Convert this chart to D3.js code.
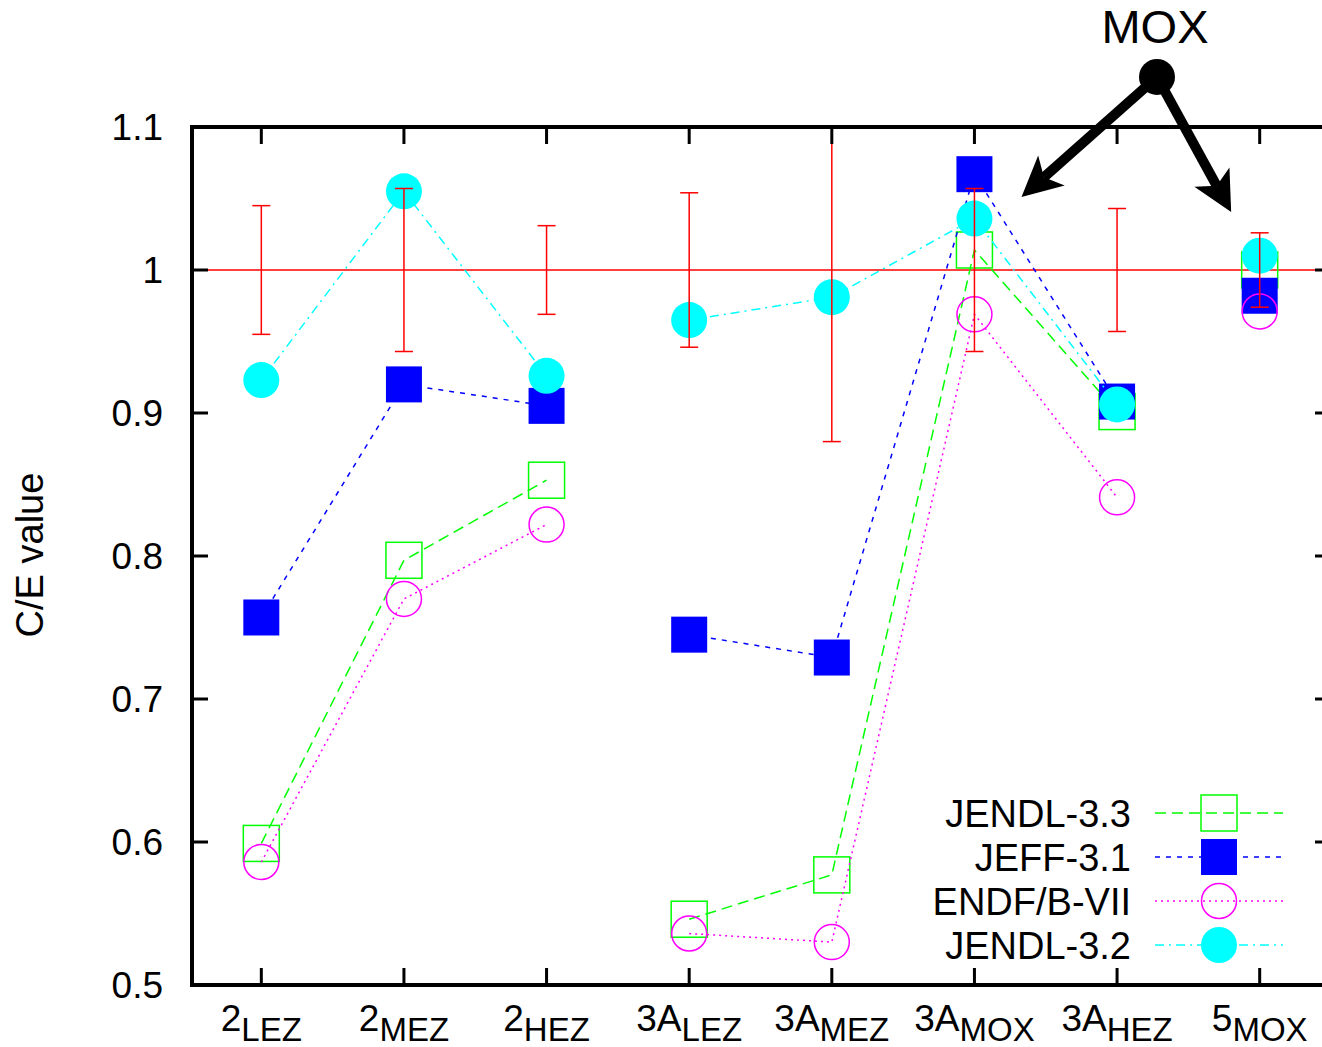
<!DOCTYPE html>
<html>
<head>
<meta charset="utf-8">
<script src="https://cdn.jsdelivr.net/npm/d3@7"></script>
<style>
  html, body { margin: 0; padding: 0; background: #fff; }
  svg { display: block; font-family: "Liberation Sans", Arial, sans-serif; }
</style>
</head>
<body>
<svg id="chart"></svg>
<script>
// categories (main label + subscript) and the run each belongs to
const labelMain = ["2", "2", "2", "3A", "3A", "3A", "3A", "5"];
const labelSub = ["LEZ", "MEZ", "HEZ", "LEZ", "MEZ", "MOX", "HEZ", "MOX"];
const runGroup = [0, 0, 0, 1, 1, 1, 1, 2];

// experimental uncertainty around C/E = 1
const expError = [0.045, 0.057, 0.031, 0.054, 0.12, 0.057, 0.043, 0.026];

const jendl33 = [0.599, 0.797, 0.853, 0.546, 0.577, 1.014, 0.901, 1.000];
const jeff31 = [0.757, 0.920, 0.905, 0.745, 0.729, 1.067, 0.908, 0.982];
const endf7 = [0.586, 0.770, 0.822, 0.536, 0.530, 0.969, 0.841, 0.971];
const jendl32 = [0.923, 1.055, 0.926, 0.965, 0.981, 1.036, 0.906, 1.010];

const yTicks = [0.5, 0.6, 0.7, 0.8, 0.9, 1.0, 1.1];

const W = 1322, H = 1047;
const pLeft = 190, pRight = 1331, pTop = 127, pBottom = 985;

const svg = d3.select("#chart").attr("width", W).attr("height", H);

const x = d3.scaleLinear().domain([-0.5, 7.5]).range([pLeft, pRight]);
const y = d3.scaleLinear().domain([0.5, 1.1]).range([pBottom, pTop]);

svg.append("defs").append("clipPath").attr("id", "plotclip")
  .append("rect")
  .attr("x", pLeft).attr("y", pTop)
  .attr("width", pRight - pLeft).attr("height", pBottom - pTop);

const plot = svg.append("g").attr("clip-path", "url(#plotclip)");

// reference line at 1
plot.append("line")
  .attr("x1", pLeft).attr("x2", pRight)
  .attr("y1", y(1)).attr("y2", y(1))
  .attr("stroke", "#ff0000").attr("stroke-width", 1.5);

const series = [
  { name: "JENDL-3.3", values: jendl33, color: "#00ff00", dash: "11,6", shape: "square", filled: false },
  { name: "JEFF-3.1", values: jeff31, color: "#0000ff", dash: "5,6", shape: "square", filled: true },
  { name: "ENDF/B-VII", values: endf7, color: "#ff00ff", dash: "2,4", shape: "circle", filled: false },
  { name: "JENDL-3.2", values: jendl32, color: "#00ffff", dash: "9,5,2,5", shape: "circle", filled: true }
];

const line = d3.line().x(d => x(d.i)).y(d => y(d.v));

function drawMarker(g, s, cx, cy) {
  if (s.shape === "square") {
    g.append("rect")
      .attr("x", cx - 18).attr("y", cy - 18)
      .attr("width", 36).attr("height", 36)
      .attr("fill", s.filled ? s.color : "none")
      .attr("stroke", s.color).attr("stroke-width", s.filled ? 0 : 1.5);
  } else {
    g.append("circle")
      .attr("cx", cx).attr("cy", cy)
      .attr("r", s.filled ? 18 : 17.5)
      .attr("fill", s.filled ? s.color : "none")
      .attr("stroke", s.color).attr("stroke-width", s.filled ? 0 : 1.5);
  }
}

series.forEach(s => {
  const pts = s.values.map((v, i) => ({ i, v, g: runGroup[i] }));
  const runs = d3.groups(pts, d => d.g);
  const g = plot.append("g");
  runs.forEach(([k, run]) => {
    if (run.length < 2) return;
    g.append("path")
      .attr("d", line(run))
      .attr("fill", "none")
      .attr("stroke", s.color)
      .attr("stroke-width", 1.5)
      .attr("stroke-dasharray", s.dash);
  });
  pts.forEach(d => drawMarker(g, s, x(d.i), y(d.v)));
});

// error bars on top
const eb = plot.append("g").attr("stroke", "#ff0000").attr("stroke-width", 1.5);
expError.forEach((e, i) => {
  const cx = x(i);
  eb.append("line").attr("x1", cx).attr("x2", cx).attr("y1", y(1 + e)).attr("y2", y(1 - e));
  eb.append("line").attr("x1", cx - 9).attr("x2", cx + 9).attr("y1", y(1 + e)).attr("y2", y(1 + e));
  eb.append("line").attr("x1", cx - 9).attr("x2", cx + 9).attr("y1", y(1 - e)).attr("y2", y(1 - e));
});

// frame and ticks
const frame = svg.append("g").attr("stroke", "#000");
frame.append("rect")
  .attr("x", pLeft + 2).attr("y", pTop).attr("width", pRight - pLeft).attr("height", pBottom - pTop)
  .attr("fill", "none").attr("stroke-width", 4);

yTicks.forEach(t => {
  frame.append("line").attr("x1", pLeft + 2).attr("x2", pLeft + 18).attr("y1", y(t)).attr("y2", y(t)).attr("stroke-width", 3);
  frame.append("line").attr("x1", pRight - 16).attr("x2", pRight).attr("y1", y(t)).attr("y2", y(t)).attr("stroke-width", 3);
});
labelMain.forEach((m, i) => {
  frame.append("line").attr("x1", x(i)).attr("x2", x(i)).attr("y1", pBottom).attr("y2", pBottom - 17).attr("stroke-width", 3);
  frame.append("line").attr("x1", x(i)).attr("x2", x(i)).attr("y1", pTop).attr("y2", pTop + 17).attr("stroke-width", 3);
});

// y tick labels
svg.append("g").selectAll("text")
  .data(yTicks).join("text")
  .attr("x", 163).attr("y", d => y(d) + 13)
  .attr("text-anchor", "end")
  .attr("font-size", 37)
  .text(d => d3.format("~g")(d));

// x tick labels with subscripts
labelMain.forEach((m, i) => {
  const t = svg.append("text")
    .attr("x", x(i)).attr("y", 1031)
    .attr("text-anchor", "middle");
  t.append("tspan").attr("font-size", 37).text(m);
  t.append("tspan").attr("font-size", 33).attr("dy", 10).text(labelSub[i]);
});

// y axis title
svg.append("text")
  .attr("transform", "translate(43,555) rotate(-90)")
  .attr("text-anchor", "middle")
  .attr("font-size", 38)
  .text("C/E value");

// legend
const legRows = [813, 857, 901, 945];
series.forEach((s, k) => {
  const ly = legRows[k];
  svg.append("text")
    .attr("x", 1131).attr("y", ly + 14)
    .attr("text-anchor", "end")
    .attr("font-size", 38)
    .text(s.name);
  svg.append("line")
    .attr("x1", 1155).attr("x2", 1283).attr("y1", ly).attr("y2", ly)
    .attr("stroke", s.color).attr("stroke-width", 1.5)
    .attr("stroke-dasharray", s.dash);
  drawMarker(svg, s, 1219, ly);
});

// MOX annotation
const dot = { i: 6.28, v: 1.135 };
const tips = [{ i: 5.33, v: 1.051 }, { i: 6.80, v: 1.0405 }];
const ann = svg.append("g");
const dx = x(dot.i), dy = y(dot.v);
tips.forEach(tp => {
  const tx = x(tp.i), ty = y(tp.v);
  const len = Math.hypot(dx - tx, dy - ty);
  const ux = (dx - tx) / len, uy = (dy - ty) / len;
  const px = -uy, py = ux;
  ann.append("line")
    .attr("x1", dx).attr("y1", dy)
    .attr("x2", tx + ux * 30).attr("y2", ty + uy * 30)
    .attr("stroke", "#000").attr("stroke-width", 10);
  const head = [
    [tx, ty],
    [tx + ux * 40 + px * 20, ty + uy * 40 + py * 20],
    [tx + ux * 30, ty + uy * 30],
    [tx + ux * 40 - px * 20, ty + uy * 40 - py * 20]
  ];
  ann.append("path").attr("d", "M" + head.join("L") + "Z").attr("fill", "#000");
});
ann.append("circle").attr("cx", dx).attr("cy", dy).attr("r", 18).attr("fill", "#000");
ann.append("text")
  .attr("x", dx - 2).attr("y", 43)
  .attr("text-anchor", "middle")
  .attr("font-size", 47)
  .text("MOX");
</script>
</body>
</html>
